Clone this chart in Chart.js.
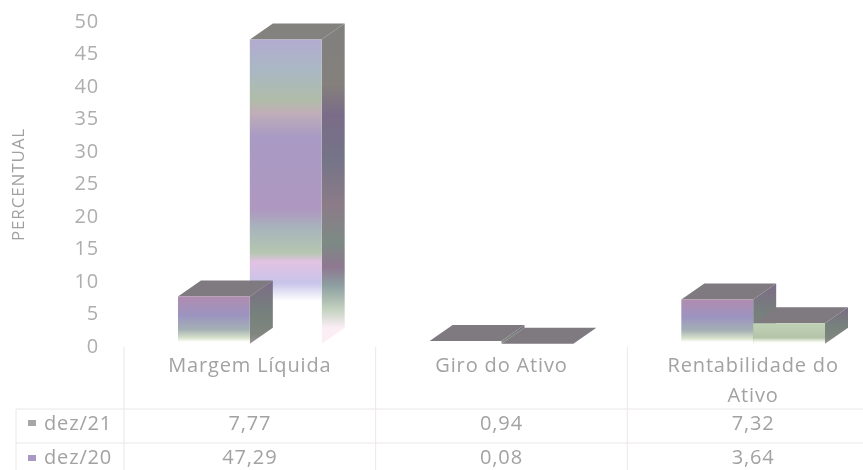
<!DOCTYPE html>
<html>
<head>
<meta charset="utf-8">
<script src="https://cdn.jsdelivr.net/npm/chart.js@4"></script>
<style>
  html, body { margin: 0; background: #fff; overflow: hidden; width: 863px; height: 470px; }
  canvas { display: block; filter: blur(0.6px); }
</style>
</head>
<body>
<canvas id="chart-1" width="885" height="470"></canvas>
<script>
var categories = ["Margem Líquida", "Giro do Ativo", ["Rentabilidade do", "Ativo"]];
var seriesNames = ["dez/21", "dez/20"];
var dez21 = [7.77, 0.94, 7.32];
var dez20 = [47.29, 0.08, 3.64];
var dez21Text = ["7,77", "0,94", "7,32"];
var dez20Text = ["47,29", "0,08", "3,64"];

var textColor = "#a2a2a2";
var tickFont = { family: "Open Sans", size: 20, lineHeight: 1.5 };
var depthX = 23;
var depthY = 16;
var baseValue = 0.5;

// colour bands down a bar, top to bottom
var tallFront = [[0, "#b3abd0"], [0.1, "#a9b8c4"], [0.2, "#b0bca8"], [0.24, "#c0aeb8"], [0.32, "#a89ac4"], [0.56, "#ae98c0"], [0.62, "#a8b4bc"], [0.7, "#b4c6b0"], [0.73, "#e2c2e2"], [0.8, "#c8c4ea"], [0.86, "#ffffff"], [1, "#ffffff"]];
var tallSide = [[0, "#80807e"], [0.2, "#84807c"], [0.3, "#7a6c88"], [0.45, "#757488"], [0.6, "#8c7c88"], [0.72, "#7c8a84"], [0.8, "#8e7890"], [0.86, "#8c9ea0"], [0.94, "#c4d2c0"], [1, "#fbeef5"]];
var shortFront = [[0, "#b08cb0"], [0.4, "#9c94c0"], [0.7, "#a4b0b4"], [0.88, "#d8e2cc"], [0.96, "#ffffff"], [1, "#ffffff"]];
var shortSide = [[0, "#7c6c86"], [0.5, "#76807c"], [0.85, "#80867e"], [1, "#a0949e"]];
var lowFront = [[0, "#c0d2b6"], [0.7, "#b4c4a8"], [0.9, "#f4f8ee"], [1, "#ffffff"]];

function bands(ctx, top, bottom, stops) {
  var g = ctx.createLinearGradient(0, top, 0, bottom);
  stops.forEach(function (s) { g.addColorStop(s[0], s[1]); });
  return g;
}

var chartOne = document.getElementById("chart-1").getContext("2d");

var threeD = {
  id: "threeD",
  // scanned text runs wider than the installed fonts
  beforeDraw: function (chart) {
    chart.ctx.letterSpacing = "0.85px";
  },
  // taller bar of each group goes first, so the shorter one sits in front of it
  beforeDatasetsDraw: function (chart) {
    var ctx = chart.ctx;
    categories.forEach(function (c, i) {
      var bars = [chart.getDatasetMeta(0).data[i], chart.getDatasetMeta(1).data[i]];
      var order = bars[0].y < bars[1].y ? [bars[0], bars[1]] : [bars[1], bars[0]];
      order.forEach(function (bar) {
        var left = bar.x - bar.width / 2;
        var right = bar.x + bar.width / 2;
        var top = Math.min(bar.y, bar.base);
        var tall = bar.base - top > 200;
        ctx.save();
        // top face
        ctx.fillStyle = tall ? "#84827f" : "#7e7a80";
        ctx.beginPath();
        ctx.moveTo(left, top);
        ctx.lineTo(left + depthX, top - depthY);
        ctx.lineTo(right + depthX, top - depthY);
        ctx.lineTo(right, top);
        ctx.closePath();
        ctx.fill();
        // side face
        ctx.fillStyle = tall ? bands(ctx, top - depthY, bar.base - depthY, tallSide) : bands(ctx, top - depthY, bar.base, shortSide);
        ctx.beginPath();
        ctx.moveTo(right, top);
        ctx.lineTo(right + depthX, top - depthY);
        ctx.lineTo(right + depthX, bar.base - depthY);
        ctx.lineTo(right, bar.base);
        ctx.closePath();
        ctx.fill();
        ctx.restore();
        // the near-zero bars show no front face
        if (bar.base - bar.y > 4) bar.draw(ctx);
      });
    });
    return false;
  },
  afterDraw: function (chart) {
    var ctx = chart.ctx;
    var x = chart.scales.x;
    var half = (x.getPixelForValue(1) - x.getPixelForValue(0)) / 2;
    var tableLeft = 16;
    var rowA = 409;
    var rowB = 443;
    ctx.save();
    // table lines
    ctx.strokeStyle = "#ebe6ea";
    ctx.lineWidth = 1;
    ctx.beginPath();
    categories.forEach(function (c, i) {
      var lineX = x.getPixelForValue(i) - half;
      ctx.moveTo(lineX, chart.chartArea.bottom);
      ctx.lineTo(lineX, 470);
    });
    ctx.moveTo(tableLeft, rowA);
    ctx.lineTo(x.right, rowA);
    ctx.moveTo(tableLeft, rowB);
    ctx.lineTo(x.right, rowB);
    ctx.moveTo(tableLeft, rowA);
    ctx.lineTo(tableLeft, 470);
    ctx.stroke();
    // table text
    ctx.fillStyle = textColor;
    ctx.font = "20px 'Open Sans'";
    ctx.textAlign = "center";
    ctx.textBaseline = "middle";
    categories.forEach(function (c, i) {
      ctx.fillText(dez21Text[i], x.getPixelForValue(i), 424);
      ctx.fillText(dez20Text[i], x.getPixelForValue(i), 458);
    });
    // legend keys and series names
    ctx.textAlign = "left";
    ctx.fillText(seriesNames[0], 44, 424);
    ctx.fillText(seriesNames[1], 44, 458);
    ctx.fillStyle = "#a8a4a8";
    ctx.fillRect(28, 420, 8, 6);
    ctx.fillStyle = "#a898c4";
    ctx.fillRect(28, 455, 8, 6);
    ctx.restore();
  },
};

function frontColor(stopsForValue, values) {
  return function (c) {
    if (!c.chart.chartArea) return "#b0a8c8";
    var y = c.chart.scales.y;
    var value = values[c.dataIndex];
    var top = y.getPixelForValue(value);
    var bottom = y.getPixelForValue(baseValue);
    return bands(c.chart.ctx, top, bottom, stopsForValue(value));
  };
}

var myBarChart = new Chart(chartOne, {
  type: "bar",
  data: {
    labels: categories,
    datasets: [
      {
        label: seriesNames[0],
        data: dez21,
        base: baseValue,
        backgroundColor: frontColor(function () { return shortFront; }, dez21),
      },
      {
        label: seriesNames[1],
        data: dez20,
        base: baseValue,
        backgroundColor: frontColor(function (v) { return v > 20 ? tallFront : lowFront; }, dez20),
      },
    ],
  },
  options: {
    responsive: false,
    animation: false,
    devicePixelRatio: 1,
    layout: { autoPadding: false, padding: { top: 22, right: 6, left: 0, bottom: 0 } },
    plugins: { legend: { display: false }, tooltip: { enabled: false } },
    datasets: { bar: { categoryPercentage: 0.571, barPercentage: 1 } },
    scales: {
      x: {
        grid: { display: false },
        border: { display: false },
        ticks: { color: textColor, font: tickFont, maxRotation: 0, minRotation: 0, padding: -4 },
        afterFit: function (scale) { scale.height = 123; },
      },
      y: {
        min: 0,
        max: 50,
        grid: { display: false },
        border: { display: false },
        title: { display: true, text: "PERCENTUAL", color: "#a0a0a0", font: { family: "Open Sans", size: 17 }, padding: { top: 9, bottom: 0 } },
        ticks: { color: "#aeaeae", font: { family: "Open Sans", size: 20 }, stepSize: 5, padding: 17 },
        afterFit: function (scale) {
          scale.width = 124;
          scale.paddingTop = 0;
          scale.paddingBottom = 0;
        },
      },
    },
  },
  plugins: [threeD],
});
</script>
</body>
</html>
